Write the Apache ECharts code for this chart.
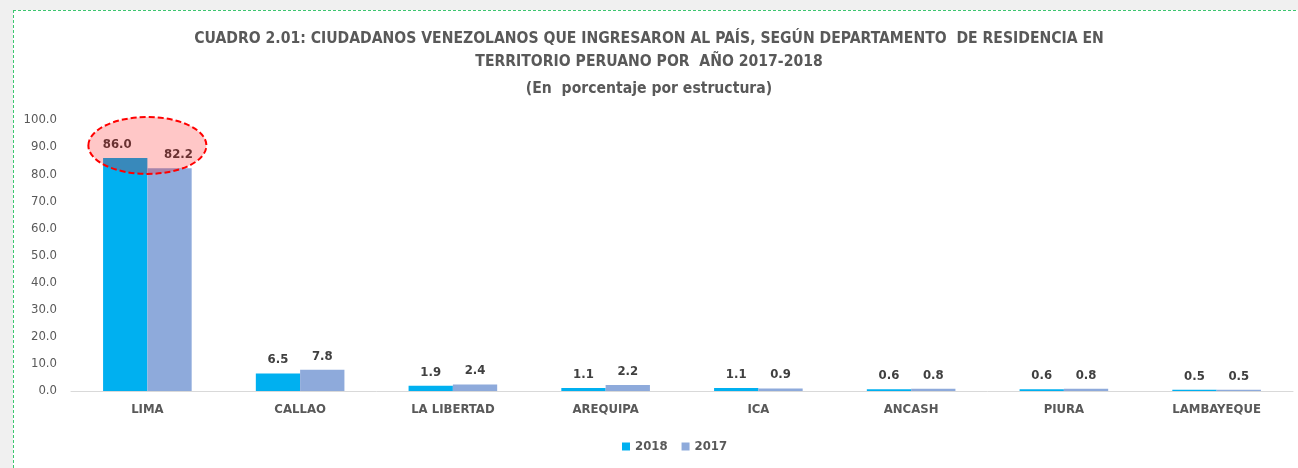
<!DOCTYPE html>
<html>
<head>
<meta charset="utf-8">
<script src="https://cdn.jsdelivr.net/npm/echarts@6/dist/echarts.min.js"></script>
<style>
  html, body { margin: 0; padding: 0; width: 1298px; height: 468px; overflow: hidden; background: #f0f0f0; }
  #frame { position: absolute; left: 13px; top: 10px; width: 1300px; height: 470px; background: #fff; }
  #lineaTop { position: absolute; left: 13px; top: 10px; width: 1290px; height: 1px;
              background: repeating-linear-gradient(to right, #3cc76f 0 3px, transparent 3px 5px); }
  #lineaIzq { position: absolute; left: 13px; top: 10px; width: 1px; height: 460px;
              background: repeating-linear-gradient(to bottom, #3cc76f 0 3px, transparent 3px 5px); }
  #main { position: absolute; left: 0; top: 0; width: 1298px; height: 468px; }
</style>
</head>
<body>
<div id="frame"></div>
<div id="lineaTop"></div>
<div id="lineaIzq"></div>
<div id="main"></div>
<script>
// datos del cuadro
var departamentos = ['LIMA', 'CALLAO', 'LA LIBERTAD', 'AREQUIPA', 'ICA', 'ANCASH', 'PIURA', 'LAMBAYEQUE'];
var valores2018 = [86.0, 6.5, 1.9, 1.1, 1.1, 0.6, 0.6, 0.5];
var valores2017 = [82.2, 7.8, 2.4, 2.2, 0.9, 0.8, 0.8, 0.5];
var titulos = [
    'CUADRO 2.01: CIUDADANOS VENEZOLANOS QUE INGRESARON AL PAÍS, SEGÚN DEPARTAMENTO  DE RESIDENCIA EN',
    'TERRITORIO PERUANO POR  AÑO 2017-2018',
    '(En  porcentaje por estructura)'
];

var fuente = '"Liberation Sans Narrow", "DejaVu Sans Condensed", sans-serif';
var gris = '#595959';

var myChart = echarts.init(document.getElementById('main'));

function etiqueta() {
    return {
        show: true,
        position: 'top',
        distance: 7,
        color: '#404040',
        fontWeight: 'bold',
        fontSize: 13,
        fontFamily: fuente,
        formatter: function(p) { return p.value.toFixed(1); }
    };
}

// LIMA tiene las etiquetas algo desplazadas
var datos2018 = valores2018.map(function(v, i) {
    return i === 0 ? { value: v, label: { offset: [-8, 0] } } : v;
});
var datos2017 = valores2017.map(function(v, i) {
    return i === 0 ? { value: v, label: { offset: [9, 0] } } : v;
});

var estiloTitulo = { color: gris, fontSize: 15.6, fontWeight: 'bold', fontFamily: fuente };

var option = {
    animation: false,
    title: [
        { text: titulos[0], left: 'center', top: 26, textStyle: estiloTitulo },
        { text: titulos[1], left: 'center', top: 49, textStyle: estiloTitulo },
        { text: titulos[2], left: 'center', top: 76, textStyle: estiloTitulo }
    ],
    legend: {
        bottom: 10,
        left: 617,
        itemWidth: 8,
        itemHeight: 8,
        itemGap: 14,
        icon: 'rect',
        textStyle: { color: gris, fontWeight: 'bold', fontSize: 13, fontFamily: fuente },
        data: ['2018', '2017']
    },
    grid: { left: 71, right: 5, top: 120, bottom: 77 },
    xAxis: {
        type: 'category',
        data: departamentos,
        axisTick: { show: false },
        axisLine: { lineStyle: { color: '#d9d9d9' } },
        axisLabel: { color: gris, fontWeight: 'bold', fontSize: 13, fontFamily: fuente, margin: 12 }
    },
    yAxis: {
        type: 'value',
        min: 0,
        max: 100,
        interval: 10,
        splitLine: { show: false },
        axisLabel: { color: gris, fontSize: 13, fontFamily: fuente, margin: 14,
                     formatter: function(v) { return v.toFixed(1); } }
    },
    series: [
        { name: '2018', type: 'bar', data: datos2018, barGap: '0%', barCategoryGap: '42%',
          itemStyle: { color: '#00b0f0' }, label: etiqueta() },
        { name: '2017', type: 'bar', data: datos2017, barGap: '0%', barCategoryGap: '42%',
          itemStyle: { color: '#8eaadb' }, label: etiqueta() }
    ]
};
myChart.setOption(option);

// elipse roja punteada sobre LIMA
var centro = myChart.convertToPixel({ xAxisIndex: 0, yAxisIndex: 0 }, [departamentos[0], 90.6]);
var arriba = myChart.convertToPixel({ xAxisIndex: 0, yAxisIndex: 0 }, [departamentos[0], 101.1]);
myChart.setOption({
    graphic: [{
        type: 'ellipse',
        z: 10,
        shape: { cx: centro[0], cy: centro[1], rx: 59, ry: centro[1] - arriba[1] },
        style: { fill: 'rgba(255,0,0,0.22)', stroke: '#ff0000', lineWidth: 2, lineDash: [6, 3] }
    }]
});
</script>
</body>
</html>
